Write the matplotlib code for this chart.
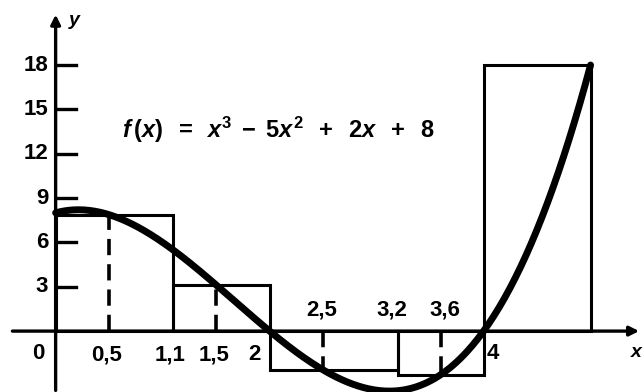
import matplotlib.pyplot as plt
import numpy as np

plt.rcParams['font.family'] = ['Liberation Sans', 'DejaVu Sans']
plt.rcParams['font.weight'] = 'bold'
plt.rcParams['mathtext.fontset'] = 'custom'
plt.rcParams['mathtext.rm'] = 'Liberation Sans:bold'
plt.rcParams['mathtext.it'] = 'Liberation Sans:italic:bold'

# partition of [0, 5] and the sample points used for each rectangle
edges = [0, 1.1, 2, 3.2, 4, 5]
samples = [0.5, 1.5, 2.5, 3.6, 5]
dashed_at = [0.5, 1.5, 2.5, 3.6]

x_labels_below = ['0,5', '1,1', '1,5', '2']
x_below_pos = [0.48, 1.07, 1.48, 1.86]
x_labels_above = ['2,5', '3,2', '3,6']
x_above_pos = [2.49, 3.14, 3.64]
y_ticks = [3, 6, 9, 12, 15, 18]


def f(x):
    return x**3 - 5 * x**2 + 2 * x + 8


fig = plt.figure(figsize=(6.43, 3.92), dpi=100)
ax = fig.add_axes([0, 0, 1, 1])
ax.set_xlim(-0.52, 5.49)
ax.set_ylim(-4.12, 22.4)
ax.axis('off')

# axes with arrows
ax.annotate('', xy=(5.48, 0), xytext=(-0.43, 0),
            arrowprops=dict(arrowstyle='-|>', lw=2.4, color='black',
                            mutation_scale=14))
ax.annotate('', xy=(0, 21.6), xytext=(0, -4.2),
            arrowprops=dict(arrowstyle='-|>', lw=2.4, color='black',
                            mutation_scale=14))
ax.text(0.17, 21.0, 'y', style='italic', fontsize=14, ha='center', va='center')
ax.text(5.43, -1.45, 'x', style='italic', fontsize=14, ha='center', va='center')

# y ticks
for t in y_ticks:
    ax.plot([0, 0.19], [t, t], color='black', lw=2.4)
    ax.text(-0.07, t, str(t), fontsize=16, ha='right', va='center')
ax.text(-0.16, -1.5, '0', fontsize=16, ha='center', va='center')

# rectangles of the Riemann sum
widths = np.diff(edges)
heights = [f(s) for s in samples]
ax.bar(edges[:-1], heights, widths, align='edge', fill=False,
       edgecolor='black', lw=2.2)

# dashed sample lines
for s in dashed_at:
    ax.plot([s, s], [0, f(s)], color='black', lw=2.6, ls=(0, (4.5, 2.5)))

# curve
xs = np.linspace(0, 5, 300)
ax.plot(xs, f(xs), color='black', lw=5, solid_capstyle='round')

# x labels
for lab, p in zip(x_labels_below, x_below_pos):
    ax.text(p, -1.6, lab, fontsize=16, ha='center', va='center')
for lab, p in zip(x_labels_above, x_above_pos):
    ax.text(p, 1.45, lab, fontsize=16, ha='center', va='center')
ax.text(4.03, -1.5, '4', fontsize=16, ha='left', va='center')

ax.text(2.08, 13.6,
        r'$f\,(x)\;\;=\;\;x^3\;-\;5x^2\;\;+\;\;2x\;\;+\;\;8$',
        fontsize=17, ha='center', va='center')

fig.savefig('out.png', dpi=100)
